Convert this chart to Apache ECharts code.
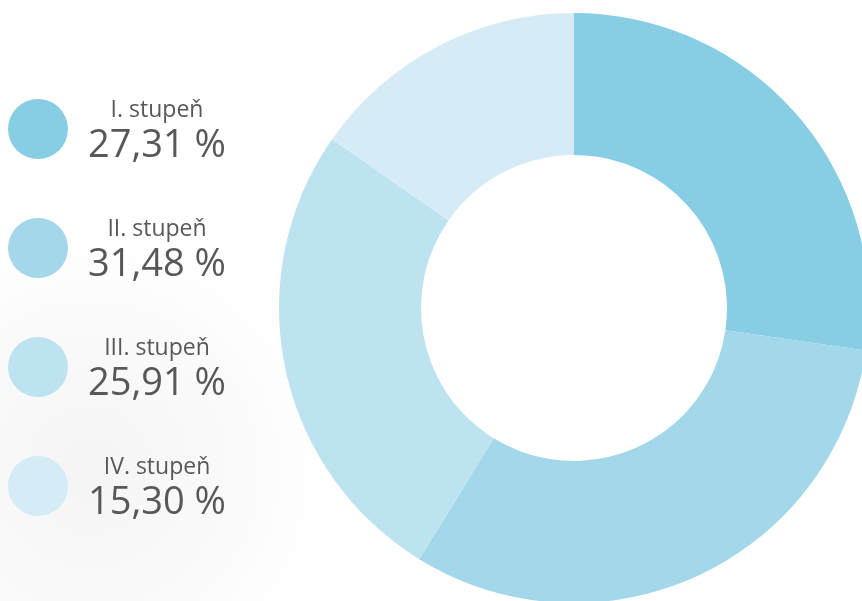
<!DOCTYPE html>
<html>
<head>
<meta charset="utf-8">
<script src="https://cdn.jsdelivr.net/npm/echarts@6/dist/echarts.min.js"></script>
<style>
html,body{margin:0;padding:0;background:#fff;}
#chart{width:862px;height:601px;}
</style>
</head>
<body>
<div id="chart"></div>
<script>
const categories = ['I. stupeň', 'II. stupeň', 'III. stupeň', 'IV. stupeň'];
const values = [27.31, 31.48, 25.91, 15.30];
const valueLabels = ['27,31 %', '31,48 %', '25,91 %', '15,30 %'];
const colors = ['#87cee5', '#a3d7ea', '#bde3f1', '#d5ebf6'];

const chart = echarts.init(document.getElementById('chart'));
const fontFamily = '"Open Sans", "Noto Sans", sans-serif';

// legend layout
const legendTop = 99, legendStep = 119, iconSize = 60, textX = 157;

const graphics = [
  {
    type: 'circle', z: -10, silent: true,
    shape: { cx: 90, cy: 470, r: 270 },
    style: {
      fill: new echarts.graphic.RadialGradient(0.5, 0.5, 0.5, [
        { offset: 0, color: 'rgba(228,228,228,0.4)' },
        { offset: 0.6, color: 'rgba(235,235,235,0.22)' },
        { offset: 1, color: 'rgba(255,255,255,0)' }
      ])
    }
  }
];
categories.forEach((c, i) => {
  const cy = legendTop + iconSize / 2 + legendStep * i;
  graphics.push({
    type: 'text', silent: true,
    x: textX, y: cy - 19,
    style: { text: c, fontFamily: fontFamily, fontSize: 23, fill: '#58585a', align: 'center', verticalAlign: 'middle' }
  });
  graphics.push({
    type: 'text', silent: true,
    x: textX, y: cy + 17,
    style: { text: valueLabels[i], fontFamily: fontFamily, fontSize: 38, fill: '#58585a', align: 'center', verticalAlign: 'middle' }
  });
});

chart.setOption({
  backgroundColor: '#ffffff',
  animation: false,
  color: colors,
  graphic: graphics,
  legend: {
    orient: 'vertical',
    left: 8,
    top: legendTop,
    padding: 0,
    itemWidth: iconSize,
    itemHeight: iconSize,
    itemGap: legendStep - iconSize,
    icon: 'circle',
    selectedMode: false,
    data: categories,
    formatter: function () { return ''; },
    textStyle: { fontSize: 1 }
  },
  series: [{
    type: 'pie',
    center: [574, 308],
    radius: [153, 295],
    startAngle: 90,
    clockwise: true,
    label: { show: false },
    labelLine: { show: false },
    emphasis: { disabled: true },
    itemStyle: { borderWidth: 0 },
    data: categories.map((c, i) => ({ name: c, value: values[i] }))
  }]
});
</script>
</body>
</html>
